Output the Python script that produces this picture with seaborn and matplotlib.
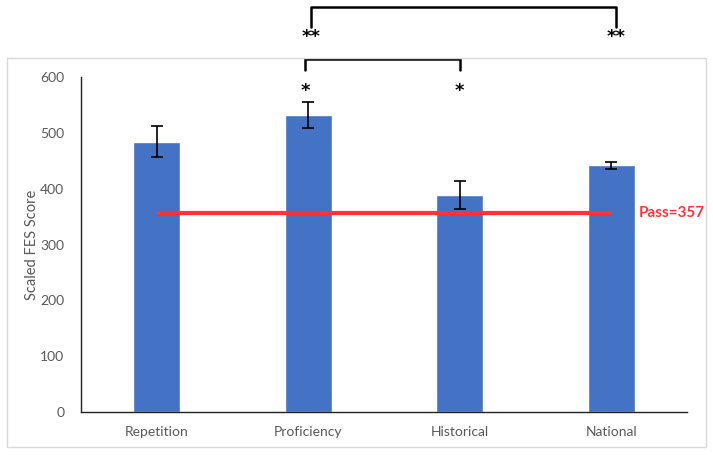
import pandas as pd
import seaborn as sns
import matplotlib.pyplot as plt
from matplotlib.patches import Rectangle

# data
categories = ['Repetition', 'Proficiency', 'Historical', 'National']
scores = [484, 532, 388, 442]
errors = [28, 23, 25, 6]
pass_score = 357

df = pd.DataFrame({'group': categories, 'score': scores})

sns.set_style('white')
plt.rcParams['font.family'] = ['Lato', 'DejaVu Sans']

fig = plt.figure(figsize=(7.13, 4.55), dpi=100)
ax = fig.add_axes([81 / 713, 43 / 455, 606 / 713, 335 / 455])

# light grey frame around the chart area, as in the Excel export
fig.patches.append(Rectangle((7 / 713, 8 / 455), 699 / 713, 389 / 455,
                             transform=fig.transFigure, fill=False,
                             edgecolor='#d9d9d9', linewidth=1))

sns.barplot(data=df, x='group', y='score', color='#4472C4', saturation=1,
            width=0.31, errorbar=None, ax=ax)
ax.errorbar(range(len(categories)), scores, yerr=errors, fmt='none',
            ecolor='black', elinewidth=1.2, capsize=4.5, capthick=1.2)

# pass line
ax.plot([0, len(categories) - 1], [pass_score, pass_score],
        color='#FF3333', linewidth=3, solid_capstyle='butt', zorder=4)
ax.text(len(categories) - 1 + 0.18, pass_score, f'Pass={pass_score}',
        color='#FF3333', fontsize=11, fontweight='bold', va='center', ha='left')

ax.set_xlim(-0.5, len(categories) - 0.5)
ax.set_ylim(0, 600)
ax.set_yticks(range(0, 601, 100))
ax.set_xlabel('')
ax.set_ylabel('Scaled FES Score', fontsize=10.5, color='#595959', labelpad=1)
ax.tick_params(axis='both', length=0, labelsize=10, labelcolor='#595959')
ax.tick_params(axis='y', pad=12)
ax.tick_params(axis='x', pad=10)
sns.despine(ax=ax)
for s in ['left', 'bottom']:
    ax.spines[s].set_color('#222222')
    ax.spines[s].set_linewidth(1)

# significance brackets
def bracket(x0, x1, top, leg, label, label_y):
    ax.plot([x0, x0, x1, x1], [leg, top, top, leg], color='black',
            linewidth=1.8, clip_on=False)
    for x in (x0, x1):
        ax.text(x, label_y, label, ha='center', va='center', fontsize=13,
                fontweight='bold', color='black', family='DejaVu Sans',
                clip_on=False)

bracket(0.98, 2.0, 632, 612, '*', 575)
bracket(1.02, 3.03, 726, 690, '**', 671)

plt.savefig('out.png', dpi=100)
